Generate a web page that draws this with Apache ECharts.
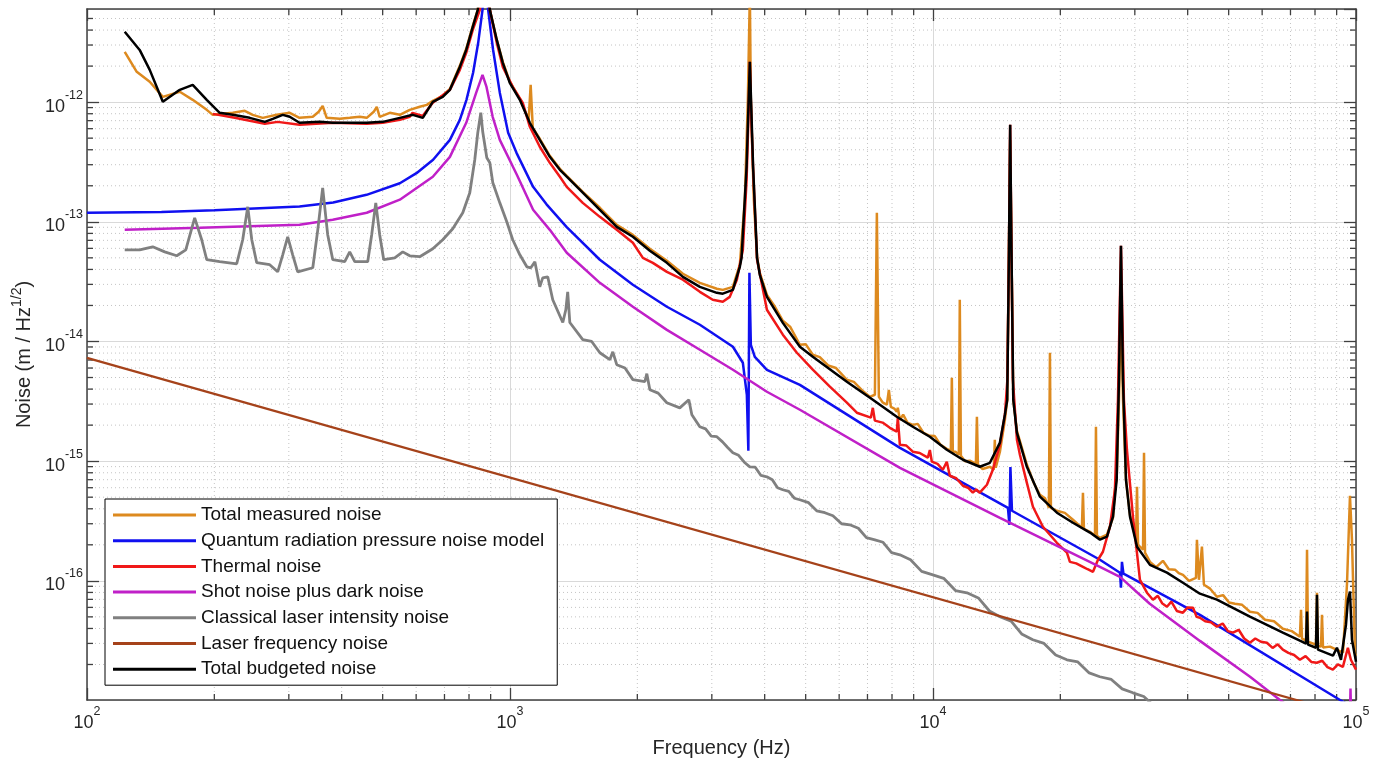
<!DOCTYPE html>
<html><head><meta charset="utf-8">
<script src="https://cdn.jsdelivr.net/npm/echarts@6/dist/echarts.min.js"></script>
<style>html,body{margin:0;padding:0;background:#fff}#c{width:1387px;height:764px}</style>
</head><body><div id="c"></div>
<script>
const X_MIN = 100, X_MAX = 100000;
const Y_MIN = 1.01e-17, Y_MAX = 6.0e-12;
const xMinorTicks = [200,300,400,500,600,700,800,900,2000,3000,4000,5000,6000,7000,8000,9000,20000,30000,40000,50000,60000,70000,80000,90000];
const yMinorTicks = [2e-17,3e-17,4e-17,5e-17,6e-17,7e-17,8e-17,9e-17,2e-16,3e-16,4e-16,5e-16,6e-16,7e-16,8e-16,9e-16,2e-15,3e-15,4e-15,5e-15,6e-15,7e-15,8e-15,9e-15,2e-14,3e-14,4e-14,5e-14,6e-14,7e-14,8e-14,9e-14,2e-13,3e-13,4e-13,5e-13,6e-13,7e-13,8e-13,9e-13,2e-12,3e-12,4e-12,5e-12];
const seriesNames = ['Total measured noise','Quantum radiation pressure noise model','Thermal noise','Shot noise plus dark noise','Classical laser intensity noise','Laser frequency noise','Total budgeted noise'];

const measured = [[122.8,2.63e-12],[131.1,1.79e-12],[140.7,1.48e-12],[151.1,1.107e-12],[165.7,1.22e-12],[177.8,1.045e-12],[191.9,8.62e-13],[198.3,7.83e-13],[221.1,8.14e-13],[236,8.46e-13],[246.5,7.83e-13],[260.3,7.39e-13],[280.9,7.83e-13],[301.5,8.14e-13],[318,7.39e-13],[341.8,7.54e-13],[353,8.3e-13],[360.7,9.31e-13],[368.7,7.39e-13],[395.8,7.25e-13],[417.9,7.39e-13],[441.4,7.54e-13],[458.5,7.39e-13],[476.3,8.3e-13],[484.2,9.14e-13],[492,7.54e-13],[519.8,8.14e-13],[549,7.83e-13],[579.4,8.62e-13],[611.8,9.14e-13],[635.9,9.49e-13],[656.8,1.025e-12],[693.4,1.13e-12],[721,1.29e-12],[761,2.01e-12],[788,2.79e-12],[816.6,4.34e-12],[839.1,5.9e-12],[868,2e-11],[896,5.9e-12],[930.6,3.31e-12],[961.6,2.17e-12],[998.9,1.48e-12],[1055,1.066e-12],[1107,7.11e-13],[1119,1.395e-12],[1132,6.1e-13],[1176,4.94e-13],[1242,3.56e-13],[1312,2.77e-13],[1362,2.42e-13],[1486,1.78e-13],[1631,1.31e-13],[1788,9.44e-14],[1952,7.78e-14],[2141,5.95e-14],[2349,4.72e-14],[2563,3.68e-14],[2811,3.09e-14],[3083,2.76e-14],[3185,2.70e-14],[3364,2.86e-14],[3494,4.38e-14],[3591,1.53e-13],[3650,1.045e-12],[3690,8e-12],[3710,1.045e-12],[3771,1.53e-13],[3838,5.0e-14],[3896,3.75e-14],[4049,2.45e-14],[4230,1.95e-14],[4416,1.49e-14],[4600,1.32e-14],[4845,9.39e-15],[5000,9.5e-15],[5198,7.75e-15],[5400,7.4e-15],[5650,6.3e-15],[5900,6.0e-15],[6257,4.79e-15],[6500,4.6e-15],[6800,3.9e-15],[7087,3.45e-15],[7288,3.59e-15],[7367,1.19e-13],[7447,3.45e-15],[7600,3.1e-15],[7780,2.96e-15],[7864,3.94e-15],[7950,2.84e-15],[8100,2.75e-15],[8212,2.59e-15],[8257,2.79e-15],[8350,2.22e-15],[8500,2.45e-15],[8700,2.1e-15],[8960,2.01e-15],[9200,2.05e-15],[9500,1.72e-15],[9830,1.63e-15],[10100,1.62e-15],[10400,1.38e-15],[10780,1.27e-15],[11020,1.22e-15],[11080,4.98e-15],[11140,1.20e-15],[11300,1.2e-15],[11510,1.13e-15],[11570,2.23e-14],[11640,1.11e-15],[11900,1.0e-15],[12220,1.01e-15],[12630,9.51e-16],[12700,2.35e-15],[12770,9.33e-16],[13100,8.6e-16],[13630,8.97e-16],[13920,8.48e-16],[14000,1.51e-15],[14070,8.8e-16],[14395,1.20e-15],[14790,2.22e-15],[14980,3.26e-15],[15220,4.83e-13],[15480,3.26e-15],[15790,1.79e-15],[16670,9.33e-16],[17300,6.6e-16],[17900,5.24e-16],[18400,4.9e-16],[18790,4.07e-16],[18900,8.05e-15],[19000,4.07e-16],[19630,3.85e-16],[20500,3.7e-16],[21420,3.24e-16],[22490,2.77e-16],[22620,5.45e-16],[22740,2.72e-16],[23500,2.57e-16],[24150,2.38e-16],[24280,1.94e-15],[24410,2.38e-16],[24810,2.29e-16],[25780,2.43e-16],[26640,3.37e-16],[26920,5.77e-16],[27180,7.27e-16],[27520,3.26e-15],[27820,2.23e-14],[28130,3.26e-15],[28590,7.0e-16],[29220,3.56e-16],[30200,2.20e-16],[30360,6.11e-16],[30530,2.00e-16],[31370,1.82e-16],[31540,1.175e-15],[31710,1.72e-16],[32580,1.44e-16],[33700,1.3e-16],[34960,1.47e-16],[36100,1.25e-16],[37330,1.24e-16],[38100,1.16e-16],[38990,1.12e-16],[40300,1.0e-16],[41850,1.06e-16],[42070,2.20e-16],[42530,1.02e-16],[43230,1.93e-16],[43700,9.27e-17],[45200,8.6e-17],[46900,7.36e-17],[48500,7.6e-17],[50100,6.6e-17],[51740,6.44e-17],[53800,6.3e-17],[56130,5.52e-17],[58500,5.4e-17],[60940,4.73e-17],[64000,4.6e-17],[67150,3.98e-17],[70500,3.8e-17],[73680,3.41e-17],[74130,5.74e-17],[74530,3.29e-17],[76180,3.16e-17],[76600,1.82e-16],[77010,3.10e-17],[80430,2.93e-17],[80860,7.96e-17],[81300,2.87e-17],[82650,2.82e-17],[83100,5.21e-17],[83560,2.77e-17],[86770,2.82e-17],[93170,2.51e-17],[95220,9.46e-17],[96770,5.14e-16],[97830,2.20e-16],[99450,2.47e-17],[100000,2.37e-17]];

const radiationPressure = [[100,1.19e-13],[150,1.21e-13],[200,1.25e-13],[318,1.34e-13],[382,1.45e-13],[458,1.68e-13],[549,2.10e-13],[601,2.55e-13],[658,3.30e-13],[721,4.84e-13],[761,7.11e-13],[789,1.045e-12],[818,1.76e-12],[841,3.13e-12],[861,5.9e-12],[870,1.5e-11],[888,5.9e-12],[912,2.74e-12],[946,1.20e-12],[990,5.55e-13],[1036,3.77e-13],[1134,1.96e-13],[1220,1.40e-13],[1360,9.08e-14],[1631,4.82e-14],[1952,2.98e-14],[2349,1.95e-14],[2811,1.38e-14],[3365,9.04e-15],[3552,6.64e-15],[3630,3.59e-15],[3660,1.22e-15],[3681,3.75e-14],[3710,9.38e-15],[3791,7.44e-15],[4049,5.80e-15],[4845,4.34e-15],[8354,1.29e-15],[15036,4.07e-16],[15160,2.94e-16],[15240,8.95e-16],[15370,3.85e-16],[24810,1.50e-16],[27670,1.17e-16],[27820,8.75e-17],[27970,1.44e-16],[28200,1.15e-16],[42760,5.2e-17],[91670,1.01e-17],[100000,8.5e-18]];

const thermal = [[198.3,7.98e-13],[223.5,7.39e-13],[263.2,6.59e-13],[282.4,6.84e-13],[318,6.46e-13],[381,6.72e-13],[458.5,6.59e-13],[500.3,6.72e-13],[549,7.11e-13],[579.4,7.54e-13],[588.3,8.14e-13],[622,7.68e-13],[656.8,9.87e-13],[721,1.267e-12],[761,1.86e-12],[788,2.58e-12],[816.6,4.02e-12],[848.4,5.9e-12],[870,1.2e-11],[896,5.9e-12],[930.6,3.13e-12],[961.6,1.97e-12],[1015,1.34e-12],[1072,9.87e-13],[1114,6.22e-13],[1176,4.24e-13],[1242,3.11e-13],[1312,2.38e-13],[1362,1.96e-13],[1486,1.44e-13],[1631,1.10e-13],[1788,8.57e-14],[1952,6.68e-14],[2061,5.0e-14],[2176,4.54e-14],[2349,3.82e-14],[2563,3.28e-14],[2811,2.60e-14],[3015,2.23e-14],[3185,2.15e-14],[3308,2.36e-14],[3438,3.28e-14],[3552,5.83e-14],[3625,2.24e-13],[3660,7.1e-13],[3690,2.17e-12],[3720,7.1e-13],[3756,2.72e-13],[3838,4.82e-14],[4049,1.84e-14],[4416,1.14e-14],[4766,8.05e-15],[5198,5.81e-15],[5704,4.19e-15],[6257,3.08e-15],[6606,2.54e-15],[7129,2.31e-15],[7207,2.79e-15],[7287,2.18e-15],[7600,2.1e-15],[7906,1.90e-15],[8212,1.76e-15],[8257,2.31e-15],[8350,1.37e-15],[8650,1.35e-15],[8960,1.20e-15],[9300,1.17e-15],[9723,1.07e-15],[9830,1.24e-15],[9937,9.9e-16],[10250,9.5e-16],[10550,8.48e-16],[10780,9.9e-16],[10960,7.55e-16],[11350,7.2e-16],[11770,6.23e-16],[12100,6.0e-16],[12420,5.45e-16],[12650,5.8e-16],[12900,5.45e-16],[13410,6.35e-16],[13850,8.48e-16],[14395,1.37e-15],[14790,2.44e-15],[14990,4.79e-15],[15120,5.83e-14],[15220,6.46e-13],[15330,5.83e-14],[15450,4.79e-15],[15790,1.51e-15],[16050,1.13e-15],[16670,6.59e-16],[17230,4.16e-16],[18190,2.83e-16],[19630,2.08e-16],[20730,1.72e-16],[21070,1.44e-16],[21800,1.4e-16],[22620,1.31e-16],[23200,1.25e-16],[23890,1.19e-16],[24550,1.50e-16],[25220,1.75e-16],[26200,2.83e-16],[26920,5.77e-16],[27370,3.26e-15],[27600,1.52e-14],[27820,6.30e-14],[28040,1.52e-14],[28270,3.26e-15],[28740,1.24e-15],[29700,3.43e-16],[30850,1.02e-16],[32050,7.96e-17],[33110,6.95e-17],[34000,7.5e-17],[34800,6.5e-17],[35730,6.08e-17],[36600,6.7e-17],[37700,5.6e-17],[38980,5.42e-17],[40000,6.0e-17],[41190,5.96e-17],[42000,5.0e-17],[42760,4.92e-17],[44000,4.6e-17],[45400,4.5e-17],[46900,4.14e-17],[48400,4.4e-17],[49800,3.8e-17],[51170,3.69e-17],[52800,3.9e-17],[54400,3.3e-17],[56130,3.04e-17],[57800,3.3e-17],[59600,3.1e-17],[61560,3.04e-17],[63500,2.75e-17],[65300,2.95e-17],[67150,2.66e-17],[69200,2.5e-17],[71400,2.4e-17],[73680,2.19e-17],[76000,2.35e-17],[78400,2.1e-17],[80800,2.07e-17],[83200,2.15e-17],[85600,1.9e-17],[88170,1.81e-17],[90600,2.0e-17],[93110,1.91e-17],[95680,2.76e-17],[97250,2.19e-17],[100000,1.81e-17]];

const shotDark = [[122.8,8.57e-14],[184.8,8.91e-14],[318,9.44e-14],[381,1.04e-13],[458.5,1.19e-13],[549,1.53e-13],[657,2.38e-13],[721,3.49e-13],[788,6.72e-13],[832,1.20e-12],[861,1.69e-12],[880,1.34e-12],[910,7.54e-13],[946,4.84e-13],[1038,2.47e-13],[1134,1.26e-13],[1242,8.57e-14],[1362,5.51e-14],[1631,3.09e-14],[1952,1.95e-14],[2349,1.25e-14],[2811,8.53e-15],[3365,5.80e-15],[4049,3.80e-15],[4845,2.69e-15],[8354,8.79e-16],[14395,3.36e-16],[24810,1.31e-16],[27670,1.08e-16],[32540,6.43e-17],[42760,3.15e-17],[56170,1.58e-17],[66110,1.01e-17],[77830,6.6e-18],[96250,3e-18],[97050,1.26e-17],[97850,3e-18]];

const intensity = [[122.8,5.83e-14],[133.2,5.83e-14],[143.0,6.18e-14],[152.7,5.61e-14],[163.0,5.20e-14],[171.2,5.83e-14],[179.7,1.08e-13],[186.7,7.08e-14],[191.9,4.82e-14],[205.9,4.64e-14],[225.9,4.46e-14],[233.4,7.08e-14],[239.9,1.334e-13],[245.2,7.08e-14],[251.9,4.55e-14],[270.4,4.38e-14],[282.4,3.82e-14],[290.2,5.30e-14],[298.2,7.50e-14],[306.4,5.30e-14],[314.9,3.82e-14],[341.8,4.13e-14],[351.2,8.57e-14],[360.7,1.92e-13],[370.7,7.8e-14],[381.1,4.82e-14],[406.7,4.64e-14],[417.9,5.61e-14],[429.5,4.64e-14],[460.9,4.64e-14],[471.0,7.8e-14],[481.6,1.44e-13],[492.0,7.8e-14],[502.9,4.82e-14],[534.0,5.0e-14],[557.8,5.61e-14],[579.4,5.20e-14],[611.8,5.11e-14],[656.8,5.95e-14],[693.4,7.08e-14],[732.2,8.75e-14],[773.3,1.19e-13],[803.4,1.75e-13],[825.5,3.30e-13],[839.1,5.55e-13],[853,8.15e-13],[862,5.65e-13],[881.4,3.43e-13],[896,3.11e-13],[910.7,2.12e-13],[946,1.44e-13],[982.6,1.0e-13],[1015,7.08e-14],[1055,5.30e-14],[1096,4.21e-14],[1120,4.13e-14],[1145,4.64e-14],[1176,2.87e-14],[1195,3.40e-14],[1228,3.47e-14],[1262,2.23e-14],[1333,1.44e-14],[1355,1.84e-14],[1369,2.60e-14],[1385,1.44e-14],[1486,1.035e-14],[1560,1.0e-14],[1631,8.05e-15],[1722,7.04e-15],[1750,8.2e-15],[1788,6.4e-15],[1870,6.0e-15],[1952,4.80e-15],[2083,4.61e-15],[2106,5.38e-15],[2141,3.95e-15],[2240,3.7e-15],[2348,3.08e-15],[2520,2.79e-15],[2647,3.26e-15],[2691,2.44e-15],[2810,1.94e-15],[2900,1.86e-15],[2990,1.62e-15],[3083,1.60e-15],[3180,1.45e-15],[3270,1.30e-15],[3364,1.175e-15],[3470,1.12e-15],[3580,9.8e-16],[3689,8.97e-16],[3800,8.9e-16],[3920,7.6e-16],[4047,7.4e-16],[4170,7.0e-16],[4290,6.0e-16],[4415,5.77e-16],[4560,5.6e-16],[4700,4.9e-16],[4843,4.76e-16],[5080,4.5e-16],[5310,3.85e-16],[5551,3.71e-16],[5800,3.5e-16],[6080,3.0e-16],[6360,2.94e-16],[6660,2.75e-16],[6960,2.3e-16],[7288,2.20e-16],[7620,2.1e-16],[7980,1.72e-16],[8350,1.65e-16],[8850,1.5e-16],[9400,1.2e-16],[9993,1.12e-16],[10600,1.05e-16],[11300,8.3e-17],[12030,7.95e-17],[12800,7.2e-17],[13600,5.6e-17],[14390,5.01e-17],[15300,4.6e-17],[16200,3.6e-17],[17220,3.22e-17],[18300,3.0e-17],[19500,2.4e-17],[20730,2.19e-17],[22000,2.1e-17],[23400,1.7e-17],[24800,1.58e-17],[26400,1.5e-17],[28000,1.25e-17],[29690,1.16e-17],[31500,1.08e-17],[34400,8.1e-18]];

const laserFrequency = [[100,7.3e-15],[100000,7.3e-18]];

const budget = [[122.8,3.87e-12],[133.2,2.73e-12],[140.7,1.86e-12],[151.1,1.006e-12],[165.7,1.267e-12],[177.8,1.395e-12],[191.9,1.045e-12],[205.9,8.14e-13],[221.1,7.83e-13],[242.5,7.39e-13],[263.2,6.84e-13],[274.9,7.25e-13],[290.2,7.83e-13],[301.5,7.54e-13],[318,6.72e-13],[355,6.84e-13],[381,6.72e-13],[458.5,6.72e-13],[500.3,6.84e-13],[549,7.39e-13],[589.2,7.83e-13],[622,7.39e-13],[656.8,1.006e-12],[693.4,1.107e-12],[721,1.267e-12],[761,1.97e-12],[788,2.73e-12],[816.6,4.26e-12],[839.1,5.9e-12],[870,2e-11],[896,5.9e-12],[930.6,3.31e-12],[961.6,2.13e-12],[998.9,1.45e-12],[1055,1.045e-12],[1114,6.72e-13],[1176,4.84e-13],[1242,3.49e-13],[1312,2.72e-13],[1362,2.38e-13],[1486,1.75e-13],[1631,1.26e-13],[1788,9.08e-14],[1952,7.50e-14],[2141,5.73e-14],[2349,4.54e-14],[2563,3.47e-14],[2811,2.86e-14],[3083,2.55e-14],[3185,2.51e-14],[3364,2.70e-14],[3494,4.21e-14],[3527,5.0e-14],[3625,2.88e-13],[3690,2.17e-12],[3756,2.88e-13],[3838,5.0e-14],[3896,3.61e-14],[4049,2.36e-14],[4416,1.43e-14],[4845,9.04e-15],[5198,7.45e-15],[6257,4.61e-15],[7207,3.26e-15],[8212,2.35e-15],[8960,1.94e-15],[9830,1.60e-15],[10780,1.245e-15],[11770,1.027e-15],[12900,8.98e-16],[13630,9.69e-16],[14395,1.43e-15],[14790,2.44e-15],[14980,3.26e-15],[15120,5.83e-14],[15220,6.46e-13],[15330,5.83e-14],[15480,3.26e-15],[15790,1.73e-15],[16670,8.97e-16],[17900,5.05e-16],[19630,3.71e-16],[21420,3.06e-16],[23500,2.53e-16],[24810,2.21e-16],[25780,2.34e-16],[26640,3.44e-16],[27180,7.0e-16],[27520,4.79e-15],[27820,6.30e-14],[28130,4.79e-15],[28590,7.0e-16],[29220,3.44e-16],[30360,1.93e-16],[32580,1.36e-16],[35730,1.17e-16],[38990,9.65e-17],[42760,7.81e-17],[46900,6.96e-17],[56130,5.02e-17],[67150,3.69e-17],[73680,3.16e-17],[76180,2.99e-17],[76600,5.53e-17],[77010,2.93e-17],[80430,2.76e-17],[80860,7.66e-17],[81300,2.66e-17],[88220,2.37e-17],[90150,2.76e-17],[92140,2.19e-17],[94690,4.30e-17],[95720,6.95e-17],[96770,8.12e-17],[97830,3.22e-17],[100000,2.11e-17]];

const colors = ['#DD8A1F','#1010F0','#F01818','#C020C8','#808080','#A5421A','#000000'];
const seriesData = [measured, radiationPressure, thermal, shotDark, intensity, laserFrequency, budget];
const widths = [2.5,2.5,2.5,2.5,2.8,2.2,2.5];

const AX = '#404040';
const FONT = "'Liberation Sans', Arial, Helvetica, sans-serif";
const GRID_MAJOR = '#d9d9d9';
const GRID_MINOR = '#c4c4c4';

function powLabel(v) {
  const e = Math.log10(v); const r = Math.round(e);
  if (Math.abs(e - r) > 1e-6) return '';
  return '{b|10}{s|' + r + '}';
}
const labelRich = {
  b: {fontSize: 18, fontFamily: FONT, color: '#262626', verticalAlign: 'bottom'},
  s: {fontSize: 12.5, fontFamily: FONT, color: '#262626', verticalAlign: 'top', padding: [0,0,14,0]}
};

function renderXMinor(params, api) {
  const x = api.value(0);
  const b = api.coord([x, Y_MIN]);
  const t = api.coord([x, Y_MAX]);
  return {type: 'group', children: [
    {type: 'line', shape: {x1: b[0], y1: b[1], x2: t[0], y2: t[1]}, style: {stroke: GRID_MINOR, lineWidth: 1, lineDash: [1, 3]}},
    {type: 'line', shape: {x1: b[0], y1: b[1], x2: b[0], y2: b[1] - 6}, style: {stroke: AX, lineWidth: 1.3}},
    {type: 'line', shape: {x1: t[0], y1: t[1], x2: t[0], y2: t[1] + 6}, style: {stroke: AX, lineWidth: 1.3}}
  ]};
}
function renderYMinor(params, api) {
  const y = api.value(1);
  const l = api.coord([X_MIN, y]);
  const r = api.coord([X_MAX, y]);
  return {type: 'group', children: [
    {type: 'line', shape: {x1: l[0], y1: l[1], x2: r[0], y2: r[1]}, style: {stroke: GRID_MINOR, lineWidth: 1, lineDash: [1, 3]}},
    {type: 'line', shape: {x1: l[0], y1: l[1], x2: l[0] + 6, y2: l[1]}, style: {stroke: AX, lineWidth: 1.3}},
    {type: 'line', shape: {x1: r[0], y1: r[1], x2: r[0] - 6, y2: r[1]}, style: {stroke: AX, lineWidth: 1.3}}
  ]};
}

const lineSeries = seriesNames.map((name, i) => ({
  name: name, type: 'line', data: seriesData[i], showSymbol: false, symbol: 'none',
  color: colors[i], lineStyle: {color: colors[i], width: widths[i]}, z: 3 + i, animation: false, clip: true
}));

const baseAxis = {
  type: 'log', logBase: 10,
  axisLine: {show: true, onZero: false, lineStyle: {color: AX, width: 1.5}},
  axisTick: {show: true, inside: true, length: 12, lineStyle: {color: AX, width: 1.3}},
  minorTick: {show: false}
};

const option = {
  backgroundColor: '#ffffff',
  animation: false,
  textStyle: {fontFamily: FONT},
  grid: {left: 87, right: 31, top: 9, bottom: 64, containLabel: false},
  xAxis: [
    Object.assign({}, baseAxis, {
      min: X_MIN, max: X_MAX, position: 'bottom',
      axisLabel: {margin: 5, formatter: powLabel, rich: labelRich},
      splitLine: {show: true, lineStyle: {color: GRID_MAJOR, width: 1}},
      name: 'Frequency (Hz)', nameLocation: 'middle', nameGap: 38,
      nameTextStyle: {fontSize: 20, color: '#262626', fontFamily: FONT}
    }),
    Object.assign({}, baseAxis, {
      min: X_MIN, max: X_MAX, position: 'top',
      axisLabel: {show: false}, splitLine: {show: false}
    })
  ],
  yAxis: [
    Object.assign({}, baseAxis, {
      min: Y_MIN, max: Y_MAX, position: 'left',
      axisLabel: {margin: 4, formatter: powLabel, rich: labelRich, showMinLabel: false, showMaxLabel: false},
      splitLine: {show: true, lineStyle: {color: GRID_MAJOR, width: 1}},
      name: '{n|Noise (m / Hz}{s|1/2}{n|)}', nameLocation: 'middle', nameGap: 48,
      nameTextStyle: {rich: {
        n: {fontSize: 20, color: '#262626', fontFamily: FONT, verticalAlign: 'bottom'},
        s: {fontSize: 14, color: '#262626', fontFamily: FONT, verticalAlign: 'top', padding: [0,0,10,0]}
      }}
    }),
    Object.assign({}, baseAxis, {
      min: Y_MIN, max: Y_MAX, position: 'right',
      axisLabel: {show: false}, splitLine: {show: false}
    })
  ],
  legend: {
    data: seriesNames, orient: 'vertical', left: 105, top: 499,
    icon: 'rect', itemWidth: 83, itemHeight: 3, itemGap: 3.7,
    padding: [5, 13, 5, 8],
    backgroundColor: '#ffffff', borderColor: '#000000', borderWidth: 1, borderRadius: 0,
    textStyle: {fontSize: 19, color: '#111111', fontFamily: FONT, lineHeight: 22},
    selectedMode: false, z: 20
  },
  series: [
    {type: 'custom', name: 'xminor', renderItem: renderXMinor, data: xMinorTicks.map(v => [v, Y_MIN]), silent: true, z: 1, animation: false},
    {type: 'custom', name: 'yminor', renderItem: renderYMinor, data: yMinorTicks.map(v => [X_MIN, v]), silent: true, z: 1, animation: false}
  ].concat(lineSeries)
};

const chart = echarts.init(document.getElementById('c'), null, {renderer: 'canvas'});
chart.setOption(option);
</script>
</body></html>
